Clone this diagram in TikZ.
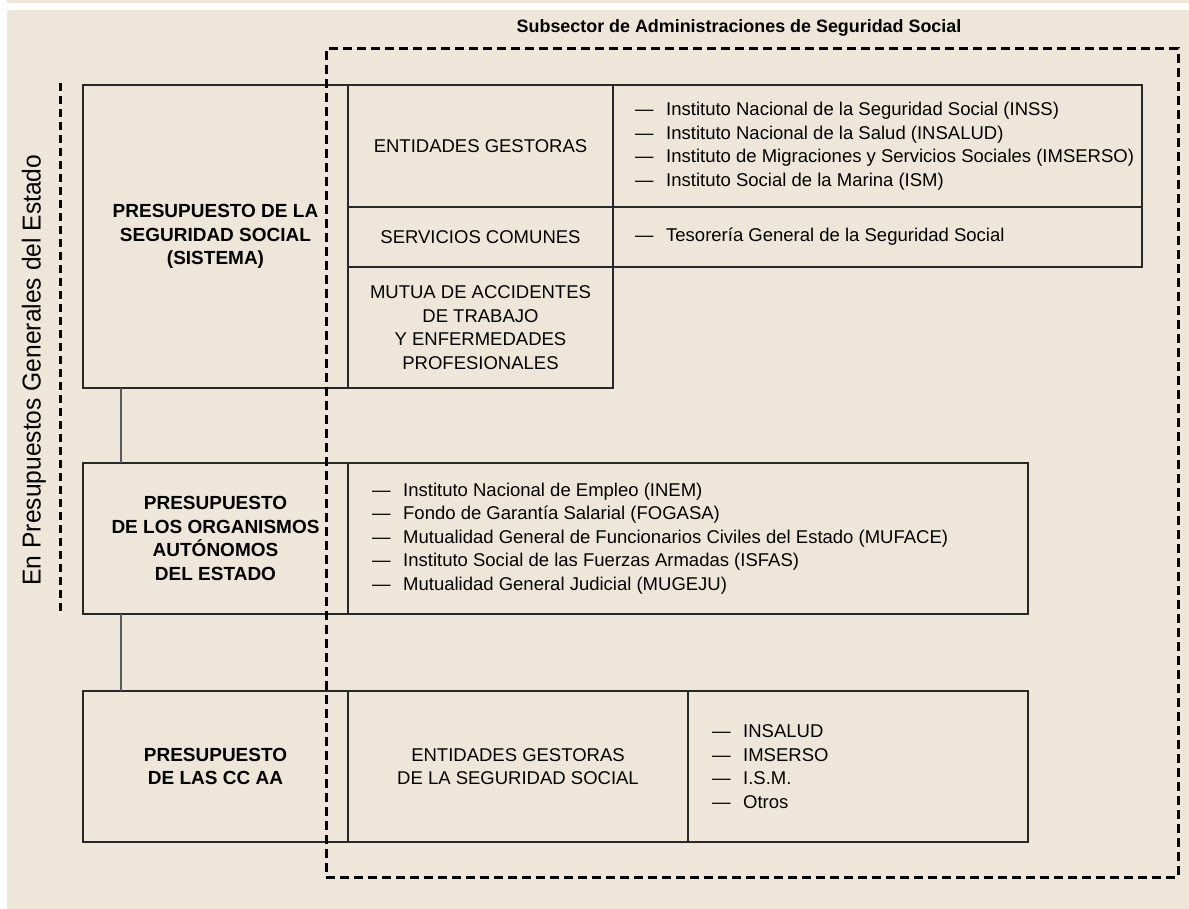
\documentclass[tikz,border=0pt]{standalone}
\usepackage{fontspec}
\setmainfont{Liberation Sans}
\newfontfamily\narrowfont[FakeStretch=0.95]{Liberation Sans}
\definecolor{bg}{RGB}{238,231,217}
\definecolor{boxline}{RGB}{40,40,40}
\newcommand\li{—\hspace{12.5pt}}
\begin{document}
\begin{tikzpicture}[x=1pt,y=-1pt,
  cell/.style={draw=boxline, line width=1.2pt, inner sep=0pt, outer sep=0pt, align=center},
  bodyfont/.style={font=\fontsize{18.5}{23.5}\selectfont},
  boldfont/.style={font=\fontsize{19}{23.5}\selectfont\bfseries},
  listtext/.style={anchor=west, align=left, inner sep=0pt, font=\fontsize{18.5}{23.5}\selectfont},
  sublane/.style={draw=black, line width=3pt, dash pattern=on 9pt off 5pt},
  link/.style={draw=black!65, line width=1.3pt}]
\useasboundingbox (0,0) rectangle (1189,909);
\fill[bg] (7,0) rectangle (1189,3);
\fill[bg] (7,10) rectangle (1189,909);

% Box 1
\node[cell, boldfont, minimum width=265pt, minimum height=303pt] (b1) at (215.5,236.5)
  {PRESUPUESTO DE LA\\SEGURIDAD SOCIAL\\(SISTEMA)};
\node[cell, bodyfont, minimum width=265pt, minimum height=122pt] (eg) at (480.5,146) {ENTIDADES GESTORAS};
\node[cell, minimum width=529pt, minimum height=122pt] (egl) at (877.5,146) {};
\node[listtext] (egtext) at ([xshift=22pt]egl.west)
  {\li Instituto Nacional de la Seguridad Social (INSS)\\
   \li Instituto Nacional de la Salud (INSALUD)\\
   \li Instituto de Migraciones y Servicios Sociales (IMSERSO)\\
   \li Instituto Social de la Marina (ISM)};
\node[cell, bodyfont, minimum width=265pt, minimum height=60pt] (sc) at (480.5,237) {SERVICIOS COMUNES};
\node[cell, minimum width=529pt, minimum height=60pt] (scl) at (877.5,237) {};
\node[listtext] (sctext) at ([xshift=22pt]scl.west) {\li Tesorería General de la Seguridad Social};
\node[cell, bodyfont, minimum width=265pt, minimum height=121pt] (mu) at (480.5,327.5)
  {MUTUA DE ACCIDENTES\\DE TRABAJO\\Y ENFERMEDADES\\PROFESIONALES};

% Box 2
\node[cell, boldfont, minimum width=265pt, minimum height=151pt] (b2) at (215.5,538.5)
  {PRESUPUESTO\\DE LOS ORGANISMOS\\AUTÓNOMOS\\DEL ESTADO};
\node[cell, minimum width=680pt, minimum height=151pt] (b2l) at (688,538.5) {};
\node[listtext] (b2text) at ([xshift=24pt]b2l.west)
  {\li Instituto Nacional de Empleo (INEM)\\
   \li Fondo de Garantía Salarial (FOGASA)\\
   \li Mutualidad General de Funcionarios Civiles del Estado (MUFACE)\\
   \li Instituto Social de las Fuerzas Armadas (ISFAS)\\
   \li Mutualidad General Judicial (MUGEJU)};

% Box 3
\node[cell, boldfont, minimum width=265pt, minimum height=151pt] (b3) at (215.5,766.5)
  {PRESUPUESTO\\DE LAS CC AA};
\node[cell, bodyfont, minimum width=340pt, minimum height=151pt] (b3m) at (518,766.5)
  {ENTIDADES GESTORAS\\DE LA SEGURIDAD SOCIAL};
\node[cell, minimum width=340pt, minimum height=151pt] (b3l) at (858,766.5) {};
\node[listtext] (b3text) at ([xshift=24pt]b3l.west)
  {\li INSALUD\\ \li IMSERSO\\ \li I.S.M.\\ \li Otros};

% connectors
\coordinate (cx) at (121,0);
\draw[link] (b1.south -| cx) -- (b2.north -| cx);
\draw[link] (b2.south -| cx) -- (b3.north -| cx);

% Subsector
\node[sublane, minimum width=852pt, minimum height=828pt, inner sep=0pt] (sub) at (752,463) {};
\node[font=\fontsize{17.9}{20}\selectfont\bfseries, inner sep=0pt] (subtitle) at (739,28)
  {Subsector de Administraciones de Seguridad Social};

% Presupuestos Generales
\coordinate (gtop) at (60,83);
\coordinate (gbot) at (60,615);
\draw[sublane, dash pattern=on 8pt off 5pt] (gtop) -- (gbot);
\node[rotate=90, font=\fontsize{25.9}{28}\narrowfont, inner sep=0pt] (gtext) at (34,370)
  {En Presupuestos Generales del Estado};
\end{tikzpicture}
\end{document}
